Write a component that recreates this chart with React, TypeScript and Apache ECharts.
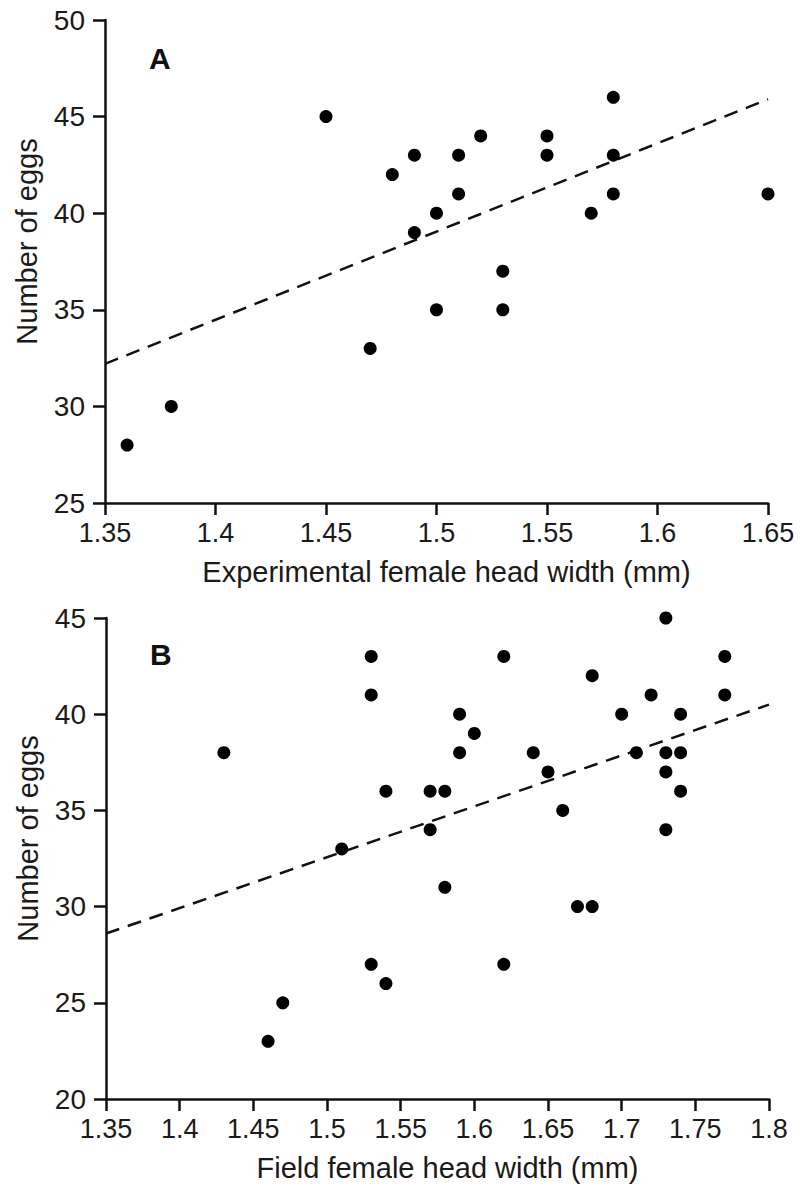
import React, { useEffect, useRef } from "react";
import * as echarts from "echarts";

// Panel A: experimental females
const headWidthA = [1.36, 1.38, 1.45, 1.47, 1.48, 1.49, 1.49, 1.50, 1.50, 1.51, 1.51, 1.52, 1.53, 1.53, 1.55, 1.55, 1.57, 1.58, 1.58, 1.58, 1.65];
const eggsA = [28, 30, 45, 33, 42, 43, 39, 40, 35, 43, 41, 44, 37, 35, 44, 43, 40, 46, 43, 41, 41];
const trendA = [[1.35, 32.2], [1.65, 45.9]];

// Panel B: field females
const headWidthB = [1.53, 1.53, 1.43, 1.54, 1.51, 1.53, 1.54, 1.47, 1.46, 1.58, 1.67, 1.68, 1.62, 1.73, 1.62, 1.77, 1.68, 1.72, 1.77, 1.59, 1.70, 1.74, 1.60, 1.59, 1.64, 1.71, 1.73, 1.74, 1.65, 1.73, 1.57, 1.58, 1.74, 1.66, 1.57, 1.73];
const eggsB = [43, 41, 38, 36, 33, 27, 26, 25, 23, 31, 30, 30, 27, 45, 43, 43, 42, 41, 41, 40, 40, 40, 39, 38, 38, 38, 38, 38, 37, 37, 36, 36, 36, 35, 34, 34];
const trendB = [[1.35, 28.6], [1.8, 40.5]];

const xTicksA = { min: 1.35, max: 1.65, interval: 0.05 };
const xTicksB = { min: 1.35, max: 1.8, interval: 0.05 };
const yTicksA = { min: 25, max: 50, interval: 5 };
const yTicksB = { min: 20, max: 45, interval: 5 };

const FONT = "Liberation Sans, Arial, Helvetica, sans-serif";
const TEXT = "#1a1a1a";

function xAxis(idx: number, t: { min: number; max: number; interval: number }, name: string) {
  return {
    type: "value",
    gridIndex: idx,
    min: t.min,
    max: t.max,
    interval: t.interval,
    name,
    nameLocation: "middle",
    nameGap: 54,
    nameTextStyle: { fontFamily: FONT, fontSize: 29, color: TEXT, padding: [0, 0, 0, 20] },
    axisLine: { show: true, onZero: false, lineStyle: { color: "#111", width: 2.5 } },
    axisTick: { show: true, inside: false, length: 12, lineStyle: { color: "#111", width: 2.5 } },
    axisLabel: {
      margin: 16,
      fontFamily: FONT,
      fontSize: 27,
      color: TEXT,
      formatter: (v: number) => String(parseFloat(v.toFixed(2))),
    },
    splitLine: { show: false },
  };
}

function yAxis(idx: number, t: { min: number; max: number; interval: number }) {
  return {
    type: "value",
    gridIndex: idx,
    min: t.min,
    max: t.max,
    interval: t.interval,
    name: "Number of eggs",
    nameLocation: "middle",
    nameGap: 64,
    nameTextStyle: { fontFamily: FONT, fontSize: 29, color: TEXT, padding: [0, 0, 0, 40] },
    axisLine: { show: true, onZero: false, lineStyle: { color: "#111", width: 2.5 } },
    axisTick: { show: true, inside: false, length: 12, lineStyle: { color: "#111", width: 2.5 } },
    axisLabel: { margin: 20, fontFamily: FONT, fontSize: 28, color: TEXT },
    splitLine: { show: false },
  };
}

export default function App() {
  const ref = useRef<HTMLDivElement>(null);
  useEffect(() => {
    if (!ref.current) return;
    const chart = echarts.init(ref.current, undefined, { renderer: "svg" });
    const scatterA = headWidthA.map((x, i) => [x, eggsA[i]]);
    const scatterB = headWidthB.map((x, i) => [x, eggsB[i]]);
    chart.setOption({
      animation: false,
      backgroundColor: "#ffffff",
      grid: [
        { left: 105, top: 20, width: 663, height: 483 },
        { left: 106, top: 618, width: 663, height: 481 },
      ],
      xAxis: [
        xAxis(0, xTicksA, "Experimental female head width (mm)"),
        xAxis(1, xTicksB, "Field female head width (mm)"),
      ],
      yAxis: [yAxis(0, yTicksA), yAxis(1, yTicksB)],
      graphic: [
        {
          type: "text",
          x: 149,
          y: 58,
          style: { text: "A", fontFamily: FONT, fontSize: 30, fontWeight: "bold", fill: "#111", verticalAlign: "middle" },
        },
        {
          type: "text",
          x: 150,
          y: 654,
          style: { text: "B", fontFamily: FONT, fontSize: 30, fontWeight: "bold", fill: "#111", verticalAlign: "middle" },
        },
      ],
      series: [
        {
          type: "line",
          xAxisIndex: 0,
          yAxisIndex: 0,
          data: trendA,
          symbol: "none",
          lineStyle: { color: "#111", width: 2.5, type: [14, 9] },
          z: 1,
        },
        {
          type: "scatter",
          xAxisIndex: 0,
          yAxisIndex: 0,
          data: scatterA,
          symbolSize: 13,
          itemStyle: { color: "#000", opacity: 1 },
          z: 2,
        },
        {
          type: "line",
          xAxisIndex: 1,
          yAxisIndex: 1,
          data: trendB,
          symbol: "none",
          lineStyle: { color: "#111", width: 2.5, type: [14, 9] },
          z: 1,
        },
        {
          type: "scatter",
          xAxisIndex: 1,
          yAxisIndex: 1,
          data: scatterB,
          symbolSize: 13,
          itemStyle: { color: "#000", opacity: 1 },
          z: 2,
        },
      ],
    });
    return () => chart.dispose();
  }, []);
  return (
    <div
      ref={ref}
      style={{ position: "absolute", left: 0, top: 0, width: 807, height: 1187, background: "#fff" }}
    />
  );
}
